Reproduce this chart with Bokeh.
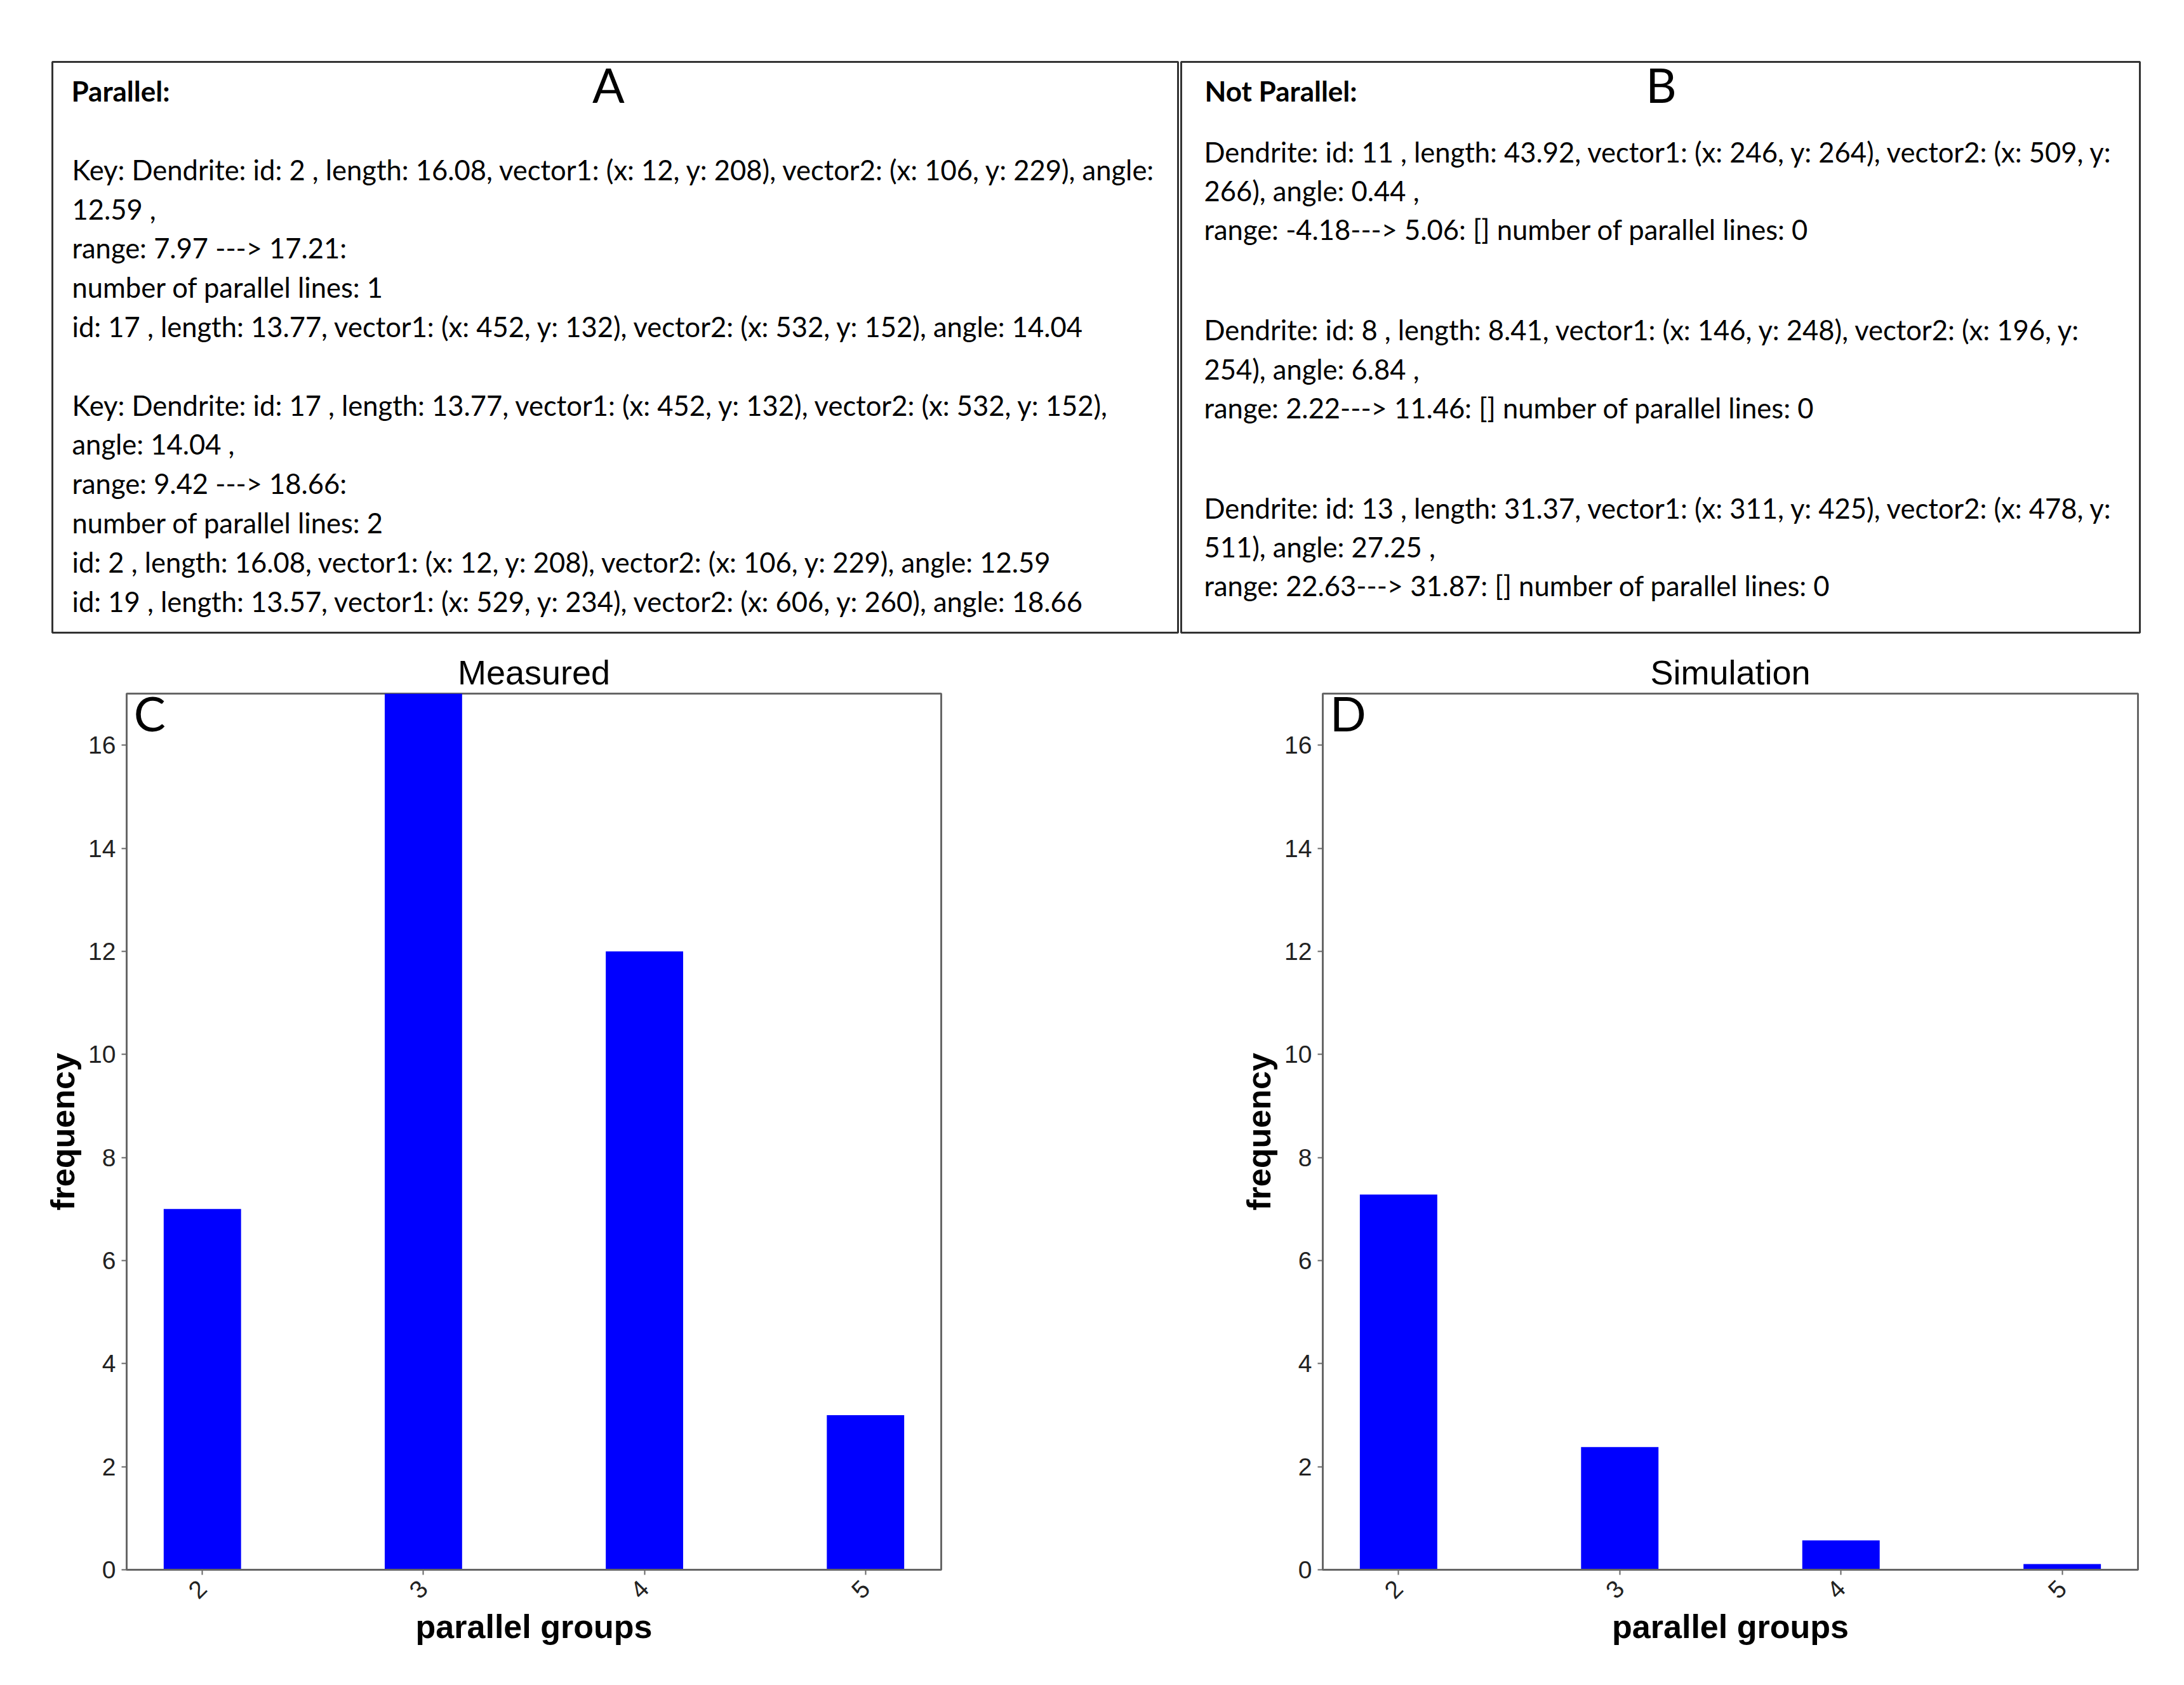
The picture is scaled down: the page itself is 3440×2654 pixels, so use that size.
import math
from bokeh.plotting import figure
from bokeh.models import Range1d, FixedTicker
from bokeh.layouts import column, row
from bokeh.core.properties import value
from bokeh.embed import file_html
from bokeh.resources import INLINE

# ---------------- data ----------------
groups = [2, 3, 4, 5]
measured = [7, 17, 12, 3]
simulation = [7.28, 2.38, 0.57, 0.11]
y_ticks = [0, 2, 4, 6, 8, 10, 12, 14, 16]
x_ticks = [2, 3, 4, 5]

panel_a_title = "Parallel:"
panel_a_lines = [
    "Key: Dendrite: id: 2 , length: 16.08, vector1: (x: 12, y: 208), vector2: (x: 106, y: 229), angle:",
    "12.59  ,",
    "range: 7.97 ---> 17.21:",
    "number of parallel lines: 1",
    "id: 17 , length: 13.77, vector1: (x: 452, y: 132), vector2: (x: 532, y: 152), angle: 14.04",
    "",
    "Key: Dendrite: id: 17 , length: 13.77, vector1: (x: 452, y: 132), vector2: (x: 532, y: 152),",
    "angle: 14.04  ,",
    "range: 9.42 ---> 18.66:",
    "number of parallel lines: 2",
    "id: 2 , length: 16.08, vector1: (x: 12, y: 208), vector2: (x: 106, y: 229), angle: 12.59",
    "id: 19 , length: 13.57, vector1: (x: 529, y: 234), vector2: (x: 606, y: 260), angle: 18.66",
]
panel_b_title = "Not Parallel:"
panel_b_groups = [
    ["Dendrite: id: 11 , length: 43.92, vector1: (x: 246, y: 264), vector2: (x: 509, y:",
     "266), angle: 0.44  ,",
     "range: -4.18---> 5.06: [] number of parallel lines: 0"],
    ["Dendrite: id: 8 , length: 8.41, vector1: (x: 146, y: 248), vector2: (x: 196, y:",
     "254), angle: 6.84  ,",
     "range: 2.22---> 11.46: [] number of parallel lines: 0"],
    ["Dendrite: id: 13 , length: 31.37, vector1: (x: 311, y: 425), vector2: (x: 478, y:",
     "511), angle: 27.25  ,",
     "range: 22.63---> 31.87: [] number of parallel lines: 0"],
]

# ---------------- styles ----------------
TXT_FONT = "Lato"
TXT_PX = 43.5
HEAD_PX = 44
LETTER_PX = 75
AX_FONT = "Liberation Sans"
BOX_COLOR = "#333333"
BAR_COLOR = "#0000FF"
SPINE = "#666666"
BASE_COMP = 0.36  # baseline compensation (fraction of font size)

W = 3424
TOP_H = 1002
BOT_H = 1636

# ---------------- top text panel ----------------
top = figure(width=W, height=TOP_H, x_range=Range1d(0, W), y_range=Range1d(TOP_H, 0),
             toolbar_location=None, output_backend="svg", min_border=0)
top.axis.visible = False
top.grid.visible = False
top.outline_line_color = None
top.background_fill_color = "white"

top.quad(left=[82, 1860], right=[1855, 3370], top=[97, 97], bottom=[996, 996],
         fill_color=None, line_color=BOX_COLOR, line_width=3)

# headers
hb = 158 - BASE_COMP * HEAD_PX
top.text(x=[112, 1897], y=[hb, hb], text=[panel_a_title, panel_b_title],
         text_font=value(TXT_FONT), text_font_style="bold", text_font_size=f"{HEAD_PX}px",
         text_color="black", text_baseline="alphabetic", text_align="left")
# panel letters
lb = 159 - BASE_COMP * LETTER_PX
top.text(x=[958, 2616], y=[lb, lb], text=["A", "B"],
         text_font=value(TXT_FONT), text_font_size=f"{LETTER_PX}px",
         text_color="black", text_baseline="alphabetic", text_align="center")

comp = BASE_COMP * TXT_PX
# panel A lines
a_x, a_y, a_txt = [], [], []
for i, s in enumerate(panel_a_lines):
    if s:
        a_x.append(113)
        a_y.append(282 + i * 61.8 - comp)
        a_txt.append(s)
top.text(x=a_x, y=a_y, text=a_txt, text_font=value(TXT_FONT), text_font_size=f"{TXT_PX}px",
         text_color="black", text_baseline="alphabetic", text_align="left")

# panel B lines
b_x, b_y, b_txt = [], [], []
for g, lines in enumerate(panel_b_groups):
    for j, s in enumerate(lines):
        b_x.append(1896)
        b_y.append(254 + g * 280.5 + j * 61.2 - comp)
        b_txt.append(s)
top.text(x=b_x, y=b_y, text=b_txt, text_font=value(TXT_FONT), text_font_size=f"{TXT_PX}px",
         text_color="black", text_baseline="alphabetic", text_align="left")


# ---------------- bar charts ----------------
def bar_chart(title, values, letter, width, mb_left, mb_right):
    p = figure(width=width, height=BOT_H, x_range=Range1d(1.6575, 5.3425), y_range=Range1d(0, 17),
               toolbar_location=None, output_backend="svg",
               min_border_left=mb_left, min_border_right=mb_right,
               min_border_top=90, min_border_bottom=166)
    p.vbar(x=groups, top=values, width=0.35, fill_color=BAR_COLOR, line_color=None)
    p.grid.visible = False
    p.outline_line_color = SPINE
    p.outline_line_width = 3
    p.title.text = title
    p.title.align = "center"
    p.title.text_font = AX_FONT
    p.title.text_font_size = "54px"
    p.title.text_font_style = "normal"
    p.title.text_color = "black"
    p.title.standoff = 8

    p.xaxis.ticker = FixedTicker(ticks=x_ticks)
    p.yaxis.ticker = FixedTicker(ticks=y_ticks)
    p.xaxis.major_label_orientation = math.pi / 4
    for ax in (p.xaxis, p.yaxis):
        ax.axis_line_color = SPINE
        ax.axis_line_width = 3
        ax.major_tick_line_color = SPINE
        ax.major_tick_line_width = 2
        ax.major_tick_in = 0
        ax.major_tick_out = 8
        ax.minor_tick_line_color = None
        ax.major_label_text_font = AX_FONT
        ax.major_label_text_font_size = "39px"
        ax.major_label_text_color = "#222222"
        ax.axis_label_text_font = AX_FONT
        ax.axis_label_text_font_size = "52px"
        ax.axis_label_text_font_style = "bold"
        ax.axis_label_text_color = "black"
    p.xaxis.axis_label = "parallel groups"
    p.yaxis.axis_label = "frequency"
    p.xaxis.major_label_standoff = 15
    p.yaxis.major_label_standoff = 9
    p.xaxis.axis_label_standoff = 0
    p.yaxis.axis_label_standoff = 8

    p.text(x=[1.6575 + 0.032], y=[16.62], text=[letter], text_font=value(TXT_FONT),
           text_font_size=f"{LETTER_PX}px", text_color="black", text_baseline="alphabetic",
           text_align="left")
    return p


pc = bar_chart("Measured", measured, "C", 1700, 199, 218)
pd_ = bar_chart("Simulation", simulation, "D", W - 1700, 383, 57)

layout = column(top, row(pc, pd_))
open("out.html", "w").write(file_html(layout, INLINE))
